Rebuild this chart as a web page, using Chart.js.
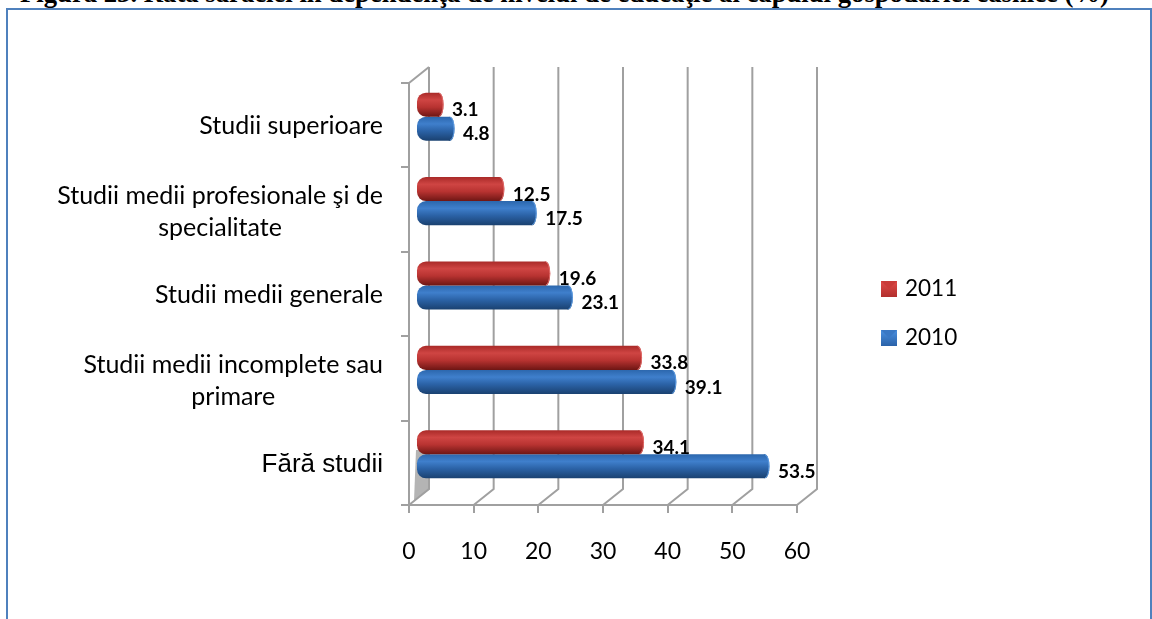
<!DOCTYPE html>
<html>
<head>
<meta charset="utf-8">
<script src="https://cdn.jsdelivr.net/npm/chart.js@4"></script>
<style>
    html, body { margin: 0; padding: 0; background: #fff; overflow: hidden; }
    #title {
        position: absolute; left: 20px; top: -22px; white-space: nowrap;
        font: bold 26.7px "Liberation Serif", serif; color: #000;
    }
    #frame {
        position: absolute; left: 6px; top: 8px; width: 1142px; height: 620px;
        border: 2px solid #4f81bd;
    }
    canvas { position: absolute; left: 0; top: 0; }
</style>
</head>
<body>
<div id="title">Figura 23. Rata sărăciei în dependenţă de nivelul de educaţie al capului gospodăriei casnice (%)</div>
<div id="frame"></div>
<canvas id="povertyChart" width="1152" height="619"></canvas>
<script>
const categories = [
    'Studii superioare',
    ['Studii medii profesionale şi de', 'specialitate'],
    'Studii medii generale',
    ['Studii medii incomplete sau', 'primare'],
    'Fără studii'
];
const values2011 = [3.1, 12.5, 19.6, 33.8, 34.1];
const values2010 = [4.8, 17.5, 23.1, 39.1, 53.5];
const xTicks = [0, 10, 20, 30, 40, 50, 60];

const GREY = '#a0a0a0';
const redStops = ['#a92a28', '#cf4543', '#b83331', '#6e1614'];
const blueStops = ['#2c67ad', '#3f7fcc', '#2b62a6', '#1a4170'];
const capColors = { red: ['#e06a68', '#a92c2a'], blue: ['#5d9be0', '#2a62a5'] };

function barGradient(ctx, top, bottom, stops) {
    const g = ctx.createLinearGradient(0, top, 0, bottom);
    g.addColorStop(0, stops[0]);
    g.addColorStop(0.3, stops[1]);
    g.addColorStop(0.6, stops[2]);
    g.addColorStop(1, stops[3]);
    return g;
}

// gradientul barei, calculat din scala categoriilor
function scriptedFill(stops) {
    return function (c) {
        const y = c.chart.scales.y;
        if (!y || c.dataIndex === undefined) return stops[2];
        const center = y.getPixelForValue(c.dataIndex);
        const half = (y.height / categories.length) * 0.57 / 2;
        if (!isFinite(center) || !isFinite(half)) return stops[2];
        const top = c.datasetIndex === 0 ? center - half : center;
        return barGradient(c.chart.ctx, top, top + half, stops);
    };
}

// Perete din spate, grila si podeaua 3D
const wallPlugin = {
    id: 'wall',
    beforeDatasetsDraw(chart) {
        const { ctx, scales: { x, y } } = chart;
        const top = y.top, bottom = y.bottom;
        ctx.save();
        ctx.fillStyle = '#b4b4b4';
        ctx.beginPath();
        ctx.moveTo(416, 450);
        ctx.lineTo(430, 450);
        ctx.lineTo(430, 489);
        ctx.lineTo(414, 501);
        ctx.closePath();
        ctx.fill();
        ctx.strokeStyle = GREY;
        ctx.lineWidth = 2;
        xTicks.forEach(v => {
            const px = x.getPixelForValue(v);
            ctx.beginPath();
            ctx.moveTo(px, bottom);
            ctx.lineTo(px + 20, bottom - 16);
            ctx.lineTo(px + 20, top - 16);
            ctx.stroke();
        });
        ctx.beginPath();
        ctx.moveTo(x.left, top);
        ctx.lineTo(x.left + 20, top - 16);
        ctx.stroke();
        ctx.restore();

        // etichetele categoriilor, centrate pe bloc si aliniate la dreapta
        ctx.save();
        ctx.fillStyle = '#000';
        ctx.textAlign = 'center';
        ctx.textBaseline = 'middle';
        categories.forEach((label, i) => {
            const lines = Array.isArray(label) ? label : [label];
            ctx.font = i === 4 ? '26px "Liberation Sans"' : '25px Lato';
            const w = Math.max(...lines.map(l => ctx.measureText(l).width));
            const cy = y.getPixelForValue(i) + (lines.length === 1 && i !== 4 ? 1 : 2.5);
            lines.forEach((l, k) => {
                ctx.fillText(l, 383 - w / 2, cy + (k - (lines.length - 1) / 2) * 32);
            });
        });
        ctx.restore();

        // barele sunt desenate in planul din mijloc
        ctx.save();
        ctx.translate(10, -8.5);
    },
    afterDatasetsDraw(chart) {
        const { ctx } = chart;
        chart.data.datasets.forEach((ds, i) => {
            const colors = capColors[ds.capName];
            chart.getDatasetMeta(i).data.forEach(bar => {
                const r = bar.height / 2;
                ctx.fillStyle = barGradient(ctx, bar.y - r, bar.y + r, ds.capStops);
                ctx.beginPath();
                ctx.ellipse(bar.x, bar.y, 4.5, r, 0, 0, Math.PI * 2);
                ctx.fill();
                ctx.strokeStyle = colors[0];
                ctx.lineWidth = 1;
                ctx.beginPath();
                ctx.ellipse(bar.x, bar.y, 4, r - 0.5, 0, -Math.PI / 2, Math.PI / 2);
                ctx.stroke();
            });
        });
        ctx.restore();

        // etichetele valorilor
        ctx.save();
        ctx.font = 'bold 19px Lato';
        ctx.fillStyle = '#000';
        ctx.textBaseline = 'middle';
        chart.data.datasets.forEach((ds, i) => {
            chart.getDatasetMeta(i).data.forEach((bar, j) => {
                ctx.fillText(ds.data[j].toFixed(1), bar.x + 10 + 13, bar.y - 8 + 5);
            });
        });
        ctx.restore();
    },
    afterDraw(chart) {
        // legenda din dreapta
        const { ctx } = chart;
        const rows = [[881, 289], [881, 338]];
        ctx.save();
        ctx.font = '22.5px Lato';
        ctx.textBaseline = 'middle';
        chart.data.datasets.forEach((ds, i) => {
            const [lx, ly] = rows[i];
            const s = 16, t = ly - s / 2;
            const grad = ctx.createLinearGradient(0, t, 0, t + s);
            grad.addColorStop(0, ds.legendColors[0]);
            grad.addColorStop(1, ds.legendColors[1]);
            ctx.fillStyle = grad;
            ctx.fillRect(lx, t, s, s);
            ctx.fillStyle = ds.legendColors[2];
            ctx.beginPath();
            ctx.moveTo(lx, t);
            ctx.lineTo(lx + s / 2, t + s / 2);
            ctx.lineTo(lx + s, t);
            ctx.closePath();
            ctx.fill();
            ctx.fillStyle = '#000';
            ctx.fillText(ds.label, 905, ly);
        });
        ctx.restore();
    }
};

new Chart(document.getElementById('povertyChart'), {
    type: 'bar',
    data: {
        labels: categories,
        datasets: [{
            label: '2011',
            data: values2011,
            base: -0.31,
            capName: 'red',
            capStops: redStops,
            legendColors: ['#e04a48', '#b22f2d', '#c93a38'],
            backgroundColor: scriptedFill(redStops),
            borderRadius: { topLeft: 9, bottomLeft: 9, topRight: 0, bottomRight: 0 },
            borderSkipped: false,
            categoryPercentage: 0.57,
            barPercentage: 1,
            clip: false
        }, {
            label: '2010',
            data: values2010,
            base: -0.31,
            capName: 'blue',
            capStops: blueStops,
            legendColors: ['#4a90e0', '#2a62a8', '#3a78c4'],
            backgroundColor: scriptedFill(blueStops),
            borderRadius: { topLeft: 9, bottomLeft: 9, topRight: 0, bottomRight: 0 },
            borderSkipped: false,
            categoryPercentage: 0.57,
            barPercentage: 1,
            clip: false
        }]
    },
    options: {
        indexAxis: 'y',
        responsive: false,
        animation: false,
        layout: { padding: { left: 0, top: 83, right: 355, bottom: 0 } },
        plugins: { legend: { display: false }, title: { display: false }, tooltip: { enabled: false } },
        scales: {
            x: {
                min: 0,
                max: 60,
                afterFit(scale) { scale.height = 114; },
                afterBuildTicks(scale) { scale.ticks = xTicks.map(v => ({ value: v })); },
                grid: { drawOnChartArea: false, color: GREY, lineWidth: 2, tickLength: 8 },
                border: { color: GREY, width: 2 },
                ticks: { color: '#000', font: { family: 'Lato', size: 23 }, padding: 25, maxRotation: 0 }
            },
            y: {
                afterFit(scale) { scale.width = 409; },
                grid: { drawOnChartArea: false, color: GREY, lineWidth: 2, tickLength: 8 },
                border: { color: GREY, width: 2 },
                ticks: { display: false }
            }
        }
    },
    plugins: [wallPlugin]
});
</script>
</body>
</html>
